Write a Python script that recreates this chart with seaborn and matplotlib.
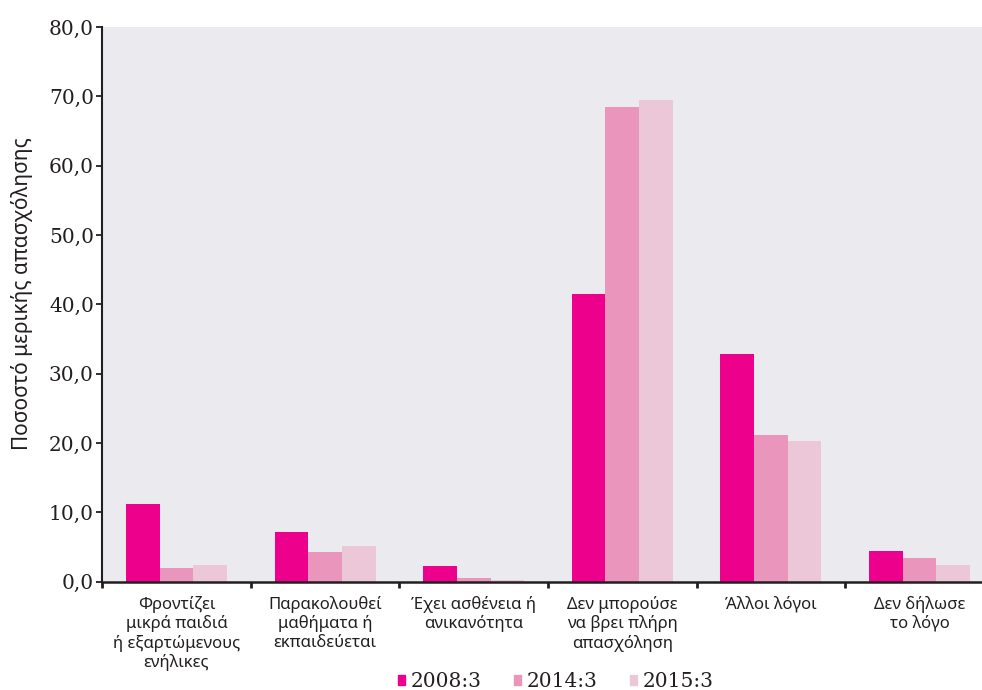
import matplotlib
matplotlib.use("Agg")
import matplotlib.pyplot as plt
import seaborn as sns
import pandas as pd
from matplotlib.ticker import FuncFormatter

# Data
categories = [
    "Φροντίζει\nμικρά παιδιά\nή εξαρτώμενους\nενήλικες",
    "Παρακολουθεί\nμαθήματα ή\nεκπαιδεύεται",
    "Έχει ασθένεια ή\nανικανότητα",
    "Δεν μπορούσε\nνα βρει πλήρη\nαπασχόληση",
    "Άλλοι λόγοι",
    "Δεν δήλωσε\nτο λόγο",
]
periods = ["2008:3", "2014:3", "2015:3"]
v2008 = [11.2, 7.1, 2.2, 41.5, 32.9, 4.4]
v2014 = [2.0, 4.3, 0.5, 68.4, 21.1, 3.4]
v2015 = [2.4, 5.1, 0.3, 69.4, 20.3, 2.4]
colors = ["#EC008C", "#EA95BB", "#EBC7D8"]

df = pd.DataFrame({
    "category": categories * 3,
    "period": [p for p in periods for _ in categories],
    "value": v2008 + v2014 + v2015,
})

sns.set_style("white")
plt.rcParams["font.family"] = ["DejaVu Serif"]
label_font = ["Noto Sans", "DejaVu Sans"]
ink = "#231F20"

fig = plt.figure(figsize=(9.82, 6.9), dpi=100)
ax = fig.add_axes([0.104, 0.157, 0.896, 0.804])
ax.set_facecolor("#EBEBEF")

sns.barplot(data=df, x="category", y="value", hue="period", hue_order=periods,
            order=categories, palette=colors, width=0.68, linewidth=0,
            saturation=1, ax=ax)

ax.set_yticks(range(0, 81, 10))
ax.yaxis.set_major_formatter(FuncFormatter(lambda v, p: f"{v:.1f}".replace(".", ",")))
ax.tick_params(axis="y", direction="out", length=4, width=1.3, labelsize=14.5,
               pad=2, left=True, color=ink, labelcolor=ink)

ax.set_xticks(range(len(categories)))
ax.set_xticklabels(categories, fontsize=12, family=label_font, color=ink,
                   linespacing=1.2, va="top")
ax.tick_params(axis="x", length=0, pad=10)
# group separators as minor ticks
ax.set_xticks([i - 0.5 for i in range(len(categories) + 1)], minor=True)
ax.tick_params(axis="x", which="minor", direction="out", length=4.5, width=2,
               bottom=True, color=ink)

# limits last, set_xticks would widen them
ax.set_ylim(0, 80)
ax.set_xlim(-0.5, 5.42)

for side in ["top", "right"]:
    ax.spines[side].set_visible(False)
ax.spines["left"].set_linewidth(1.5)
ax.spines["bottom"].set_linewidth(1.8)
ax.spines["left"].set_color(ink)
ax.spines["bottom"].set_color(ink)

ax.set_xlabel("")
ax.set_ylabel("Ποσοστό μερικής απασχόλησης", fontsize=15, family=label_font,
              color=ink)
ax.yaxis.set_label_coords(-0.078, 0.52)

ax.legend_.remove()
handles = [plt.Rectangle((0, 0), 1, 1, color=c) for c in colors]
fig.legend(handles, periods, loc="center", bbox_to_anchor=(0.566, 0.012),
           ncol=3, frameon=False, fontsize=14.5, handlelength=0.35,
           handleheight=0.35, handletextpad=0.3, columnspacing=1.6,
           borderpad=0, labelcolor=ink)

fig.savefig("out.png", dpi=100)
